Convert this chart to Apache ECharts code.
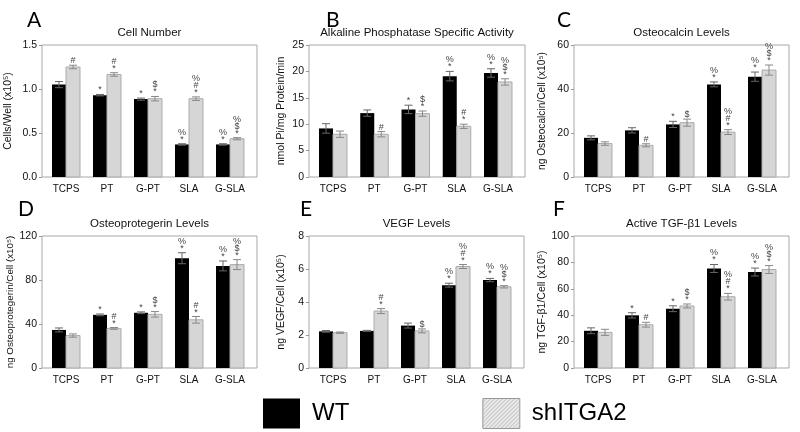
<!DOCTYPE html>
<html>
<head>
<meta charset="utf-8">
<script src="https://cdn.jsdelivr.net/npm/echarts@6/dist/echarts.min.js"></script>
<style>html,body{margin:0;padding:0;background:#fff;}#c{width:800px;height:432px;}</style>
</head>
<body>
<div id="c"></div>
<script>
const categories = ['TCPS', 'PT', 'G-PT', 'SLA', 'G-SLA'];

// A: Cell Number
const cellWT = [1.05, 0.93, 0.885, 0.37, 0.37];
const cellWTErr = [0.035, 0.008, 0.012, 0.008, 0.008];
const cellSh = [1.25, 1.165, 0.89, 0.89, 0.435];
const cellShErr = [0.02, 0.02, 0.025, 0.02, 0.012];
const cellWTMarks = ['', '*', '*', '%\n*', '%\n*'];
const cellShMarks = ['#', '#\n*', '$\n*', '%\n#\n*', '%\n$\n*'];

// B: Alkaline Phosphatase Specific Activity
const alpWT = [9.2, 12.1, 12.8, 19.1, 19.7];
const alpWTErr = [0.9, 0.6, 0.8, 0.9, 0.8];
const alpSh = [8.1, 8.1, 12.0, 9.6, 18.0];
const alpShErr = [0.6, 0.5, 0.5, 0.4, 0.6];
const alpWTMarks = ['', '', '*', '%\n*', '%\n*'];
const alpShMarks = ['', '#', '$\n*', '#\n*', '%\n$\n*'];

// C: Osteocalcin
const ocWT = [17.8, 21.2, 23.9, 42.1, 45.6];
const ocWTErr = [0.9, 1.2, 1.4, 1.1, 2.1];
const ocSh = [15.2, 14.4, 24.7, 20.4, 48.6];
const ocShErr = [0.8, 0.7, 1.6, 1.1, 2.3];
const ocWTMarks = ['', '', '*', '%\n*', '%\n*'];
const ocShMarks = ['', '#', '$', '%\n#\n*', '%\n$\n*'];

// D: Osteoprotegerin
const opgWT = [34.6, 48.3, 50.2, 99.8, 92.8];
const opgWTErr = [1.8, 0.8, 0.8, 5.0, 4.5];
const opgSh = [29.5, 36.0, 48.8, 43.8, 94.0];
const opgShErr = [1.5, 0.8, 2.5, 3.0, 4.5];
const opgWTMarks = ['', '*', '*', '%\n*', '%\n*'];
const opgShMarks = ['', '#\n*', '$\n*', '#\n*', '%\n$\n*'];

// E: VEGF
const vegfWT = [2.22, 2.25, 2.57, 5.02, 5.33];
const vegfWTErr = [0.05, 0.03, 0.15, 0.12, 0.1];
const vegfSh = [2.14, 3.45, 2.25, 6.15, 4.92];
const vegfShErr = [0.04, 0.15, 0.12, 0.12, 0.07];
const vegfWTMarks = ['', '', '', '%\n*', '%\n*'];
const vegfShMarks = ['', '#\n*', '$', '%\n#\n*', '%\n$\n*'];

// F: Active TGF-b1
const tgfWT = [28.2, 39.9, 44.9, 75.4, 72.7];
const tgfWTErr = [2.2, 2.0, 2.2, 3.0, 3.0];
const tgfSh = [27.0, 32.8, 47.0, 54.0, 74.6];
const tgfShErr = [2.3, 1.8, 1.5, 2.5, 3.0];
const tgfWTMarks = ['', '*', '*', '%\n*', '%\n*'];
const tgfShMarks = ['', '#', '$\n*', '%\n#\n*', '%\n$\n*'];

const panels = [
  {letter:'A', title:'Cell Number', yName:'Cells/Well (x10\u2075)', max:1.5, interval:0.5, dec:1, nameGap:28, nameSize:10.5,
   wt:cellWT, wtErr:cellWTErr, sh:cellSh, shErr:cellShErr, wtMarks:cellWTMarks, shMarks:cellShMarks},
  {letter:'B', title:'Alkaline Phosphatase Specific Activity', yName:'nmol Pi/mg Protein/min', max:25, interval:5, dec:0, nameGap:22, nameSize:10.5,
   wt:alpWT, wtErr:alpWTErr, sh:alpSh, shErr:alpShErr, wtMarks:alpWTMarks, shMarks:alpShMarks},
  {letter:'C', title:'Osteocalcin Levels', yName:'ng Osteocalcin/Cell (x10\u2075)', max:60, interval:20, dec:0, nameGap:27, nameSize:10.2,
   wt:ocWT, wtErr:ocWTErr, sh:ocSh, shErr:ocShErr, wtMarks:ocWTMarks, shMarks:ocShMarks},
  {letter:'D', title:'Osteoprotegerin Levels', yName:'ng Osteoprotegerin/Cell (x10\u2075)', max:120, interval:40, dec:0, nameGap:25, nameSize:9.8,
   wt:opgWT, wtErr:opgWTErr, sh:opgSh, shErr:opgShErr, wtMarks:opgWTMarks, shMarks:opgShMarks},
  {letter:'E', title:'VEGF Levels', yName:'ng VEGF/Cell (x10\u2075)', max:8, interval:2, dec:0, nameGap:22, nameSize:10.5,
   wt:vegfWT, wtErr:vegfWTErr, sh:vegfSh, shErr:vegfShErr, wtMarks:vegfWTMarks, shMarks:vegfShMarks},
  {letter:'F', title:'Active TGF-\u03b21 Levels', yName:'ng TGF-\u03b21/Cell (x10\u2075)', max:100, interval:20, dec:0, nameGap:25, nameSize:10.5,
   wt:tgfWT, wtErr:tgfWTErr, sh:tgfSh, shErr:tgfShErr, wtMarks:tgfWTMarks, shMarks:tgfShMarks}
];

const layout = [
  {left:42, top:45, width:215, height:132, lx:27, ly:20},
  {left:309, top:45, width:216, height:132, lx:326, ly:20},
  {left:574, top:45, width:215, height:132, lx:557, ly:20},
  {left:42, top:236, width:215, height:132, lx:18, ly:209},
  {left:309, top:236, width:215, height:132, lx:300, ly:209},
  {left:574, top:236, width:215, height:132, lx:553, ly:209}
];

const FONT = 'Liberation Sans, Arial, sans-serif';

function makeRender(offset, fill, stroke, errColor, marks) {
  return function (params, api) {
    const i = api.value(0), v = api.value(1), e = api.value(2);
    const base = api.coord([i, 0]);
    const top = api.coord([i, v]);
    const eTop = api.coord([i, v + e]);
    const eBot = api.coord([i, v - e]);
    const cx = base[0] + offset;
    const bw = 14, cap = 4;
    const children = [
      {type:'rect', shape:{x:cx - bw / 2, y:top[1], width:bw, height:base[1] - top[1]},
       style:{fill:fill, stroke:stroke || null, lineWidth:stroke ? 1 : 0}},
      {type:'line', shape:{x1:cx, y1:eTop[1], x2:cx, y2:eBot[1]}, style:{stroke:errColor, lineWidth:1}},
      {type:'line', shape:{x1:cx - cap, y1:eTop[1], x2:cx + cap, y2:eTop[1]}, style:{stroke:errColor, lineWidth:1}},
      {type:'line', shape:{x1:cx - cap, y1:eBot[1], x2:cx + cap, y2:eBot[1]}, style:{stroke:errColor, lineWidth:1}}
    ];
    const m = marks[params.dataIndex];
    if (m) {
      children.push({type:'text', style:{text:m, x:cx, y:eTop[1] - 1, align:'center', verticalAlign:'bottom',
        fontSize:9, lineHeight:7, fontFamily:FONT, fill:'#444'}});
    }
    return {type:'group', children:children};
  };
}

// hatch pattern for the legend
const pc = document.createElement('canvas');
pc.width = 4; pc.height = 4;
const pctx = pc.getContext('2d');
pctx.fillStyle = '#ececec'; pctx.fillRect(0, 0, 4, 4);
pctx.strokeStyle = '#9a9a9a'; pctx.lineWidth = 0.7;
pctx.beginPath(); pctx.moveTo(0, 4); pctx.lineTo(4, 0); pctx.moveTo(-1, 1); pctx.lineTo(1, -1); pctx.moveTo(3, 5); pctx.lineTo(5, 3); pctx.stroke();

const grids = [], xAxes = [], yAxes = [], series = [], graphics = [];
panels.forEach(function (p, k) {
  const L = layout[k];
  grids.push({left:L.left, top:L.top, width:L.width, height:L.height, show:true, borderColor:'#a8a8a8', borderWidth:1, backgroundColor:'transparent'});
  const spacing = (L.width - 51) / 4;
  xAxes.push({type:'value', gridIndex:k, min:-24 / spacing, max:4 + 27 / spacing,
    axisLine:{show:false, onZero:false}, axisTick:{show:false}, splitLine:{show:false},
    axisLabel:{customValues:[0, 1, 2, 3, 4], formatter:function (v) { return categories[Math.round(v)]; },
      fontSize:10, fontFamily:FONT, color:'#111', margin:7}});
  yAxes.push({type:'value', gridIndex:k, min:0, max:p.max, interval:p.interval,
    name:p.yName, nameLocation:'middle', nameGap:p.nameGap,
    nameTextStyle:{fontSize:p.nameSize, fontFamily:FONT, color:'#111'},
    axisLine:{show:false, onZero:false}, splitLine:{show:false},
    axisTick:{show:true, length:3, lineStyle:{color:'#999'}},
    axisLabel:{fontSize:10.5, fontFamily:FONT, color:'#111', margin:5,
      formatter:function (v) { return v.toFixed(p.dec); }}});
  series.push({type:'custom', name:'WT', xAxisIndex:k, yAxisIndex:k, clip:false,
    data:p.wt.map(function (v, j) { return [j, v, p.wtErr[j]]; }), encode:{x:0, y:1},
    renderItem:makeRender(-7, '#000', null, '#666', p.wtMarks), itemStyle:{color:'#000'}});
  series.push({type:'custom', name:'shITGA2', xAxisIndex:k, yAxisIndex:k, clip:false,
    data:p.sh.map(function (v, j) { return [j, v, p.shErr[j]]; }), encode:{x:0, y:1},
    renderItem:makeRender(7, '#d6d6d6', '#ababab', '#888', p.shMarks), itemStyle:{color:'#d6d6d6'}});
  graphics.push({type:'text', x:L.lx, y:L.ly, style:{text:p.letter, fontSize:21, fontFamily:'Lato, sans-serif', fill:'#000', verticalAlign:'middle', align:'left'}});
  graphics.push({type:'text', x:L.left + L.width / 2, y:L.top - 12, style:{text:p.title, fontSize:11.5, fontFamily:FONT, fill:'#111', verticalAlign:'middle', align:'center'}});
});

const chart = echarts.init(document.getElementById('c'), null, {renderer:'canvas'});
chart.setOption({
  animation:false,
  backgroundColor:'#fff',
  grid:grids, xAxis:xAxes, yAxis:yAxes, series:series,
  graphic:graphics,
  legend:{left:258, top:393, itemWidth:37, itemHeight:30, itemGap:133, selectedMode:false, icon:'rect',
    data:[{name:'WT', itemStyle:{color:'#000'}},
          {name:'shITGA2', itemStyle:{color:{image:pc, repeat:'repeat'}, borderColor:'#999', borderWidth:1}}],
    textStyle:{fontSize:24, fontFamily:FONT, color:'#000', padding:[6, 0, 0, 7]}}
});
</script>
</body>
</html>
